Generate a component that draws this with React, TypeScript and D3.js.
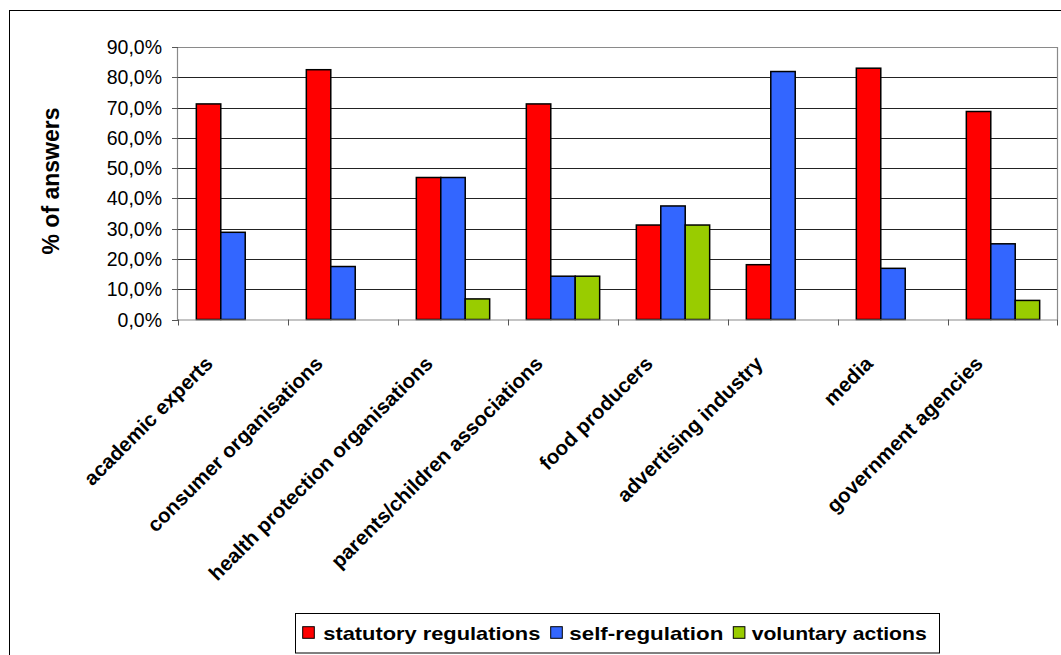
import React from "react";
import * as d3 from "d3";

const categories = [
  "academic experts",
  "consumer organisations",
  "health protection organisations",
  "parents/children associations",
  "food producers",
  "advertising industry",
  "media",
  "government agencies",
];

const seriesNames = ["statutory regulations", "self-regulation", "voluntary actions"];
const seriesColors = ["#FF0000", "#3366FF", "#99CC00"];

const statutory = [71.2, 82.5, 46.9, 71.2, 31.2, 18.1, 83.0, 68.7];
const selfRegulation = [28.8, 17.5, 46.9, 14.3, 37.5, 81.9, 16.9, 25.0];
const voluntary = [0, 0, 6.8, 14.3, 31.2, 0, 0, 6.3];

const yTicks = [0, 10, 20, 30, 40, 50, 60, 70, 80, 90];

const W = 1061;
const H = 655;
const plot = { left: 178, right: 1058, top: 47, bottom: 319.5 };
const FONT = "'Liberation Sans', Arial, Helvetica, sans-serif";

export default function App() {
  const series = [statutory, selfRegulation, voluntary];

  const x = d3.scaleBand<string>().domain(categories).range([plot.left, plot.right]).padding(0);
  const groupW = x.bandwidth();
  // three bars with a 150% gap between clusters
  const barW = groupW / (3 + 1.5);
  const inner = d3
    .scaleBand<number>()
    .domain([0, 1, 2])
    .range([barW * 0.75, barW * 0.75 + barW * 3])
    .padding(0);
  const y = d3.scaleLinear().domain([0, 90]).range([plot.bottom, plot.top]);
  const fmt = (v: number) => d3.format(".1f")(v).replace(".", ",") + "%";

  const legendItems = [
    { sx: 302.7, tx: 323.3, len: 217 },
    { sx: 550.7, tx: 569.3, len: 154 },
    { sx: 733.3, tx: 751.7, len: 175 },
  ];

  return (
    <svg
      width={W}
      height={H}
      style={{ position: "absolute", left: 0, top: 0, background: "#fff" }}
      fontFamily={FONT}
    >
      {/* chart frame */}
      <rect x={9.5} y={10.5} width={1100} height={700} fill="#fff" stroke="#000" strokeWidth={1} />

      {/* gridlines */}
      {yTicks.slice(1, -1).map((t) => (
        <line
          key={"g" + t}
          x1={plot.left}
          x2={plot.right}
          y1={Math.round(y(t)) + 0.5}
          y2={Math.round(y(t)) + 0.5}
          stroke="#222"
          strokeWidth={1}
        />
      ))}

      {/* plot area border */}
      <line x1={plot.left} x2={plot.right} y1={plot.top + 0.5} y2={plot.top + 0.5} stroke="#8a8a8a" strokeWidth={1.2} />
      <line x1={plot.right - 0.5} x2={plot.right - 0.5} y1={plot.top} y2={plot.bottom} stroke="#8a8a8a" strokeWidth={1.2} />

      {/* bars */}
      {series.map((vals, si) =>
        vals.map((v, ci) =>
          v > 0 ? (
            <rect
              key={si + "-" + ci}
              x={(x(categories[ci]) as number) + (inner(si) as number)}
              y={y(v)}
              width={inner.bandwidth()}
              height={plot.bottom - y(v)}
              fill={seriesColors[si]}
              stroke="#000"
              strokeWidth={1.5}
            />
          ) : null
        )
      )}

      {/* y axis */}
      <line x1={plot.left - 0.5} x2={plot.left - 0.5} y1={plot.top} y2={plot.bottom + 1} stroke="#8a8a8a" strokeWidth={1.2} />
      {yTicks.map((t) => (
        <g key={"t" + t}>
          <line x1={plot.left - 6} x2={plot.left} y1={Math.round(y(t)) + 0.5} y2={Math.round(y(t)) + 0.5} stroke="#555" strokeWidth={1} />
          <text x={162} y={y(t)} dy="0.36em" textAnchor="end" fontSize={19.5} fill="#000">
            {fmt(t)}
          </text>
        </g>
      ))}

      {/* x axis */}
      <line x1={plot.left} x2={plot.right} y1={plot.bottom + 0.5} y2={plot.bottom + 0.5} stroke="#8a8a8a" strokeWidth={1.2} />
      {categories.map((c, i) => (
        <line
          key={"xt" + i}
          x1={(x(c) as number) + 0.5}
          x2={(x(c) as number) + 0.5}
          y1={plot.bottom}
          y2={plot.bottom + 6}
          stroke="#555"
          strokeWidth={1}
        />
      ))}
      <line x1={plot.right - 0.5} x2={plot.right - 0.5} y1={plot.bottom} y2={plot.bottom + 6} stroke="#555" strokeWidth={1} />

      {/* category labels */}
      {categories.map((c) => {
        const cx = (x(c) as number) + groupW / 2;
        const ax = cx - 19;
        const ay = 365;
        return (
          <text
            key={"l" + c}
            x={ax}
            y={ay}
            textAnchor="end"
            fontSize={20.5}
            fontWeight="bold"
            fill="#000"
            transform={`rotate(-45 ${ax} ${ay})`}
          >
            {c}
          </text>
        );
      })}

      {/* y axis title */}
      <text
        x={0}
        y={0}
        transform={`translate(59,181) rotate(-90)`}
        textAnchor="middle"
        fontSize={23}
        fontWeight="bold"
        fill="#000"
      >
        % of answers
      </text>

      {/* legend */}
      <rect x={295.5} y={613.5} width={644} height={39.5} fill="#fff" stroke="#000" strokeWidth={1} />
      {legendItems.map((it, i) => (
        <g key={"lg" + i}>
          <rect x={it.sx} y={626.7} width={11.6} height={11.6} fill={seriesColors[i]} stroke="#000" strokeWidth={1} />
          <text
            x={it.tx}
            y={640}
            fontSize={18.5}
            fontWeight="bold"
            fill="#000"
            textLength={it.len}
            lengthAdjust="spacingAndGlyphs"
          >
            {seriesNames[i]}
          </text>
        </g>
      ))}
    </svg>
  );
}
